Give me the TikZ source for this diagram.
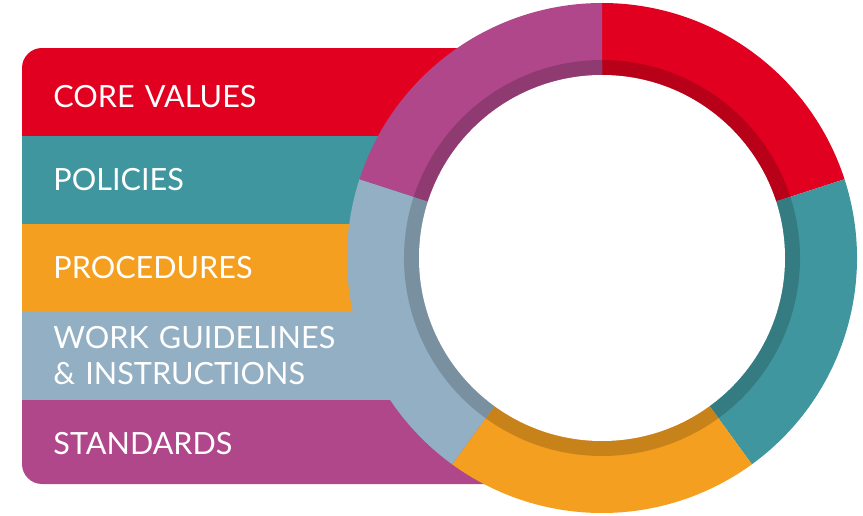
\documentclass[tikz,border=0pt]{standalone}
\usepackage{fontspec}
\setmainfont{Lato}
\usetikzlibrary{positioning}
\definecolor{valuesred}{HTML}{E1001F}
\definecolor{policyteal}{HTML}{40969F}
\definecolor{procorange}{HTML}{F49F20}
\definecolor{guideblue}{HTML}{93AFC3}
\definecolor{stdmagenta}{HTML}{B0478B}
\tikzstyle{band} = [rectangle, anchor=north west, minimum width=290pt, minimum height=43.6pt, text width=259pt, align=left, inner xsep=15.5pt, inner ysep=0pt, text=white, font=\fontsize{15.3}{18}\selectfont]

\begin{document}
\begin{tikzpicture}[x=0.5pt, y=0.5pt]
\useasboundingbox (0,0) rectangle (863,515);
\coordinate (hub) at (602,257);

% stacked labels
\begin{scope}
\clip[rounded corners=10pt] (22,31) rectangle (700,467);
\node (values) [band, fill=valuesred, text height=15.8pt] at (22,467) {CORE VALUES};
\node (policies) [band, fill=policyteal, below=0pt of values] {POLICIES};
\node (procedures) [band, fill=procorange, below=0pt of policies] {PROCEDURES};
\node (guidelines) [band, fill=guideblue, below=0pt of procedures] {WORK GUIDELINES\\\& INSTRUCTIONS};
\node (standards) [band, fill=stdmagenta, below=0pt of guidelines] {STANDARDS};
\end{scope}

% ring
\foreach \a/\col in {18/valuesred, -54/policyteal, -126/procorange, 162/guideblue, 90/stdmagenta} {
  \fill[\col] (hub) -- ++(\a:255) arc[start angle=\a, delta angle=72, radius=255] -- cycle;
  \fill[\col!82!black] (hub) -- ++(\a:198) arc[start angle=\a, delta angle=72, radius=198] -- cycle;
}
\fill[white] (hub) circle[radius=183];

\end{tikzpicture}
\end{document}
